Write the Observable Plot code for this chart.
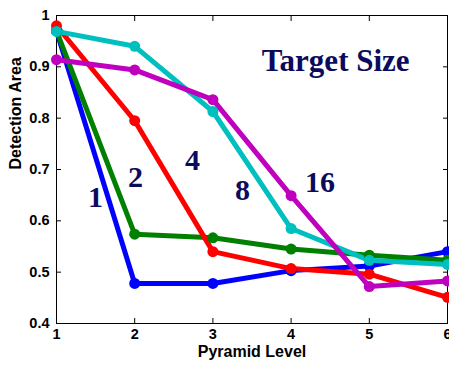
<!DOCTYPE html>
<html>
<head>
<meta charset="utf-8">
<script src="https://cdn.jsdelivr.net/npm/d3@7"></script>
<script src="https://cdn.jsdelivr.net/npm/@observablehq/plot@0.6"></script>
<style>
  html, body { margin: 0; padding: 0; background: #fff; }
  svg { display: block; }
</style>
</head>
<body>
<div id="chart"></div>
<script>
// Pyramid levels on the x axis
const levels = [1, 2, 3, 4, 5, 6];

// Detection area per target size
const size1  = [0.970, 0.478, 0.478, 0.503, 0.512, 0.540];
const size2  = [0.970, 0.574, 0.567, 0.545, 0.533, 0.523];
const size4  = [0.980, 0.795, 0.540, 0.507, 0.496, 0.451];
const size8  = [0.969, 0.940, 0.813, 0.585, 0.523, 0.515];
const size16 = [0.914, 0.894, 0.836, 0.649, 0.472, 0.483];

const seriesNames  = ["1", "2", "4", "8", "16"];
const seriesValues = [size1, size2, size4, size8, size16];
const seriesColors = ["#0000ff", "#008000", "#ff0000", "#00bfbf", "#bf00bf"];

// In-plot labels naming each curve
const labelText = ["1", "2", "4", "8", "16"];
const labelX    = [1.5, 2.01, 2.74, 3.38, 4.37];
const labelY    = [0.646, 0.685, 0.717, 0.659, 0.675];

const xTicks = [1, 2, 3, 4, 5, 6];
const yTicks = [0.4, 0.5, 0.6, 0.7, 0.8, 0.9, 1];

const rows = seriesNames.flatMap((name, i) =>
  levels.map((lv, j) => ({series: name, level: lv, value: seriesValues[i][j], color: seriesColors[i]}))
);
const labels = labelText.map((t, i) => ({t, x: labelX[i], y: labelY[i]}));

const sans = "'Liberation Sans', Arial, sans-serif";
const serif = "'Liberation Serif', 'Times New Roman', serif";

const chart = Plot.plot({
  width: 449,
  height: 365,
  marginLeft: 56,
  marginRight: 2,
  marginTop: 15,
  marginBottom: 42,
  style: {fontFamily: sans, fontSize: "14px", fontWeight: "bold", background: "#fff", color: "#000"},
  x: {domain: [1, 6]},
  y: {domain: [0.4, 1]},
  marks: [
    Plot.frame({stroke: "#000", strokeWidth: 1}),
    Plot.axisX({anchor: "bottom", ticks: xTicks, tickSize: -5, tickPadding: 10, tickFormat: d3.format("d"),
      fontSize: 14.5, fontWeight: "bold", label: null}),
    Plot.axisX({anchor: "top", ticks: xTicks, tickSize: -5, tickFormat: () => "", label: null}),
    Plot.axisY({anchor: "left", ticks: yTicks, tickSize: -5, tickPadding: 12, tickFormat: d => d === 1 ? "1" : d3.format(".1f")(d),
      fontSize: 14.5, fontWeight: "bold", label: null}),
    Plot.axisY({anchor: "right", ticks: yTicks, tickSize: -5, tickFormat: () => "", label: null}),
    Plot.line(rows, {x: "level", y: "value", z: "series", stroke: "color", strokeWidth: 5, strokeLinejoin: "round"}),
    Plot.dot(rows, {x: "level", y: "value", fill: "color", r: 5.5}),
    Plot.text(labels, {x: "x", y: "y", text: "t", fontFamily: serif, fontWeight: "bold", fontSize: 30, fill: "#0b0b5e"}),
    Plot.text(["Target Size"], {x: 4.57, y: 0.912, fontFamily: serif, fontWeight: "bold", fontSize: 31, fill: "#0b0b5e"}),
    Plot.text(["Pyramid Level"], {frameAnchor: "bottom", dy: 33, fontSize: 16, fontWeight: "bold", fill: "#000"}),
    Plot.text(["Detection Area"], {frameAnchor: "left", dx: -41, rotate: -90, fontSize: 16, fontWeight: "bold", fill: "#000"})
  ]
});

document.getElementById("chart").appendChild(chart);
</script>
</body>
</html>
